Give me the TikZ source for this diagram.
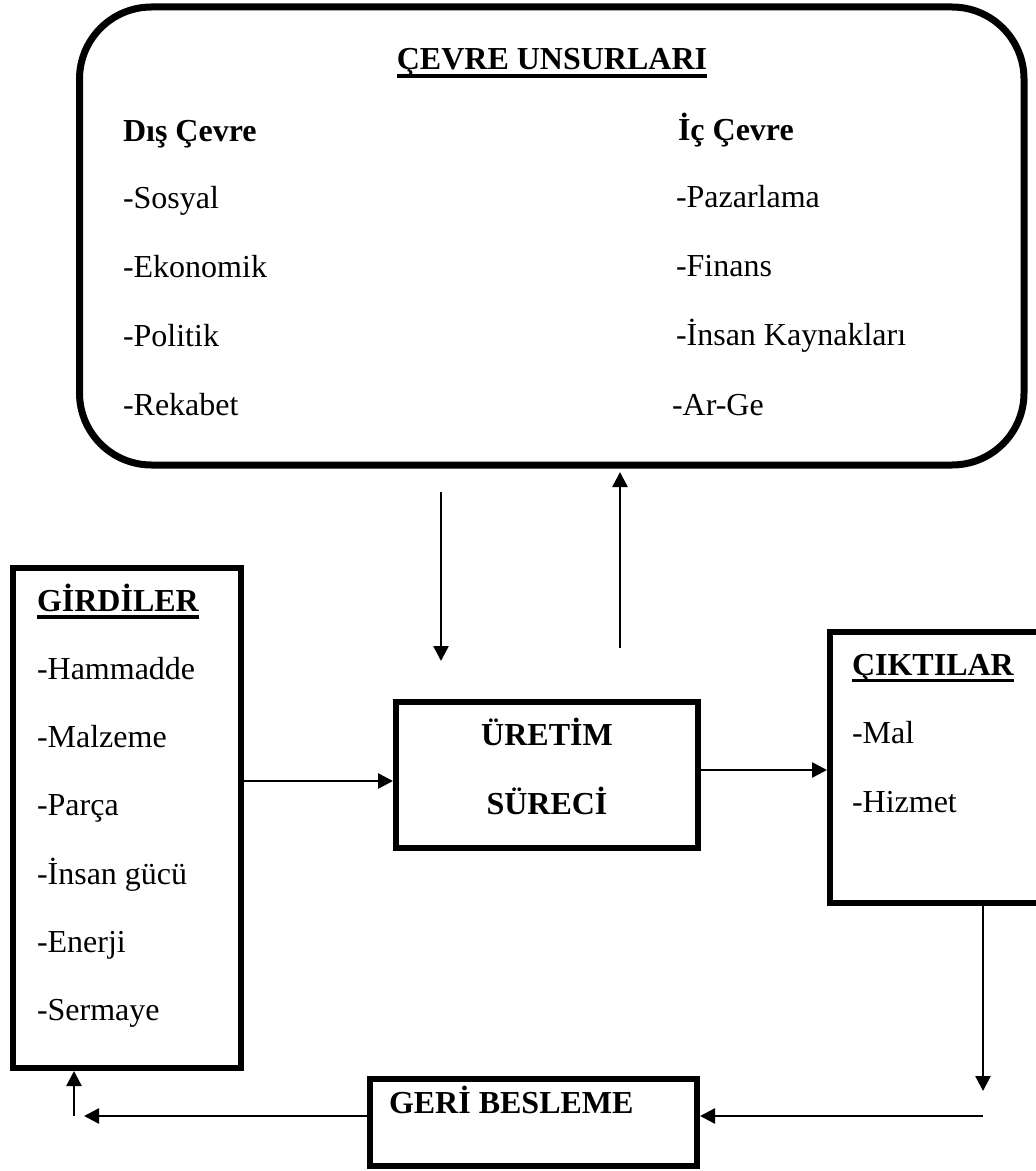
\documentclass[tikz,border=0pt]{standalone}
\usepackage{fontspec}
\setmainfont{Liberation Serif}
\usetikzlibrary{arrows.meta}
\begin{document}
\begin{tikzpicture}[x=0.5pt,y=-0.5pt,
  every node/.style={inner sep=0pt, outer sep=0pt, font=\fontsize{16}{19}\selectfont},
  box/.style={draw, line width=3pt, outer sep=1.5pt},
  label/.style={anchor=base west},
  heading/.style={anchor=base west, font=\fontsize{16}{19}\selectfont\bfseries},
  uline/.style={line width=1.6pt},
  arr/.style={line width=1.25pt, -{Triangle[length=7.5pt,width=7.5pt]}},
  wire/.style={line width=1.25pt}
]
\useasboundingbox (0,0) rectangle (1036,1171);
\clip (0,0) rectangle (1036,1171);

% environment panel
\node[draw, line width=3.5pt, rounded corners=36pt, outer sep=1.75pt,
      minimum width=472.25pt, minimum height=229pt] (env) at (551.75,236) {};
\node[heading, anchor=base] (envtitle) at (552,70) {ÇEVRE UNSURLARI};
\draw[uline] ([yshift=-3pt]envtitle.base west) -- ([yshift=-3pt]envtitle.base east);

\node[heading] (dis) at (123,142) {Dış Çevre};
\node[label] (d1) at (123,209) {-Sosyal};
\node[label] (d2) at (123,278) {-Ekonomik};
\node[label] (d3) at (123,346) {-Politik};
\node[label] (d4) at (123,415) {-Rekabet};

\node[heading] (ic) at (678,141) {İç Çevre};
\node[label] (i1) at (676,208) {-Pazarlama};
\node[label] (i2) at (676,277) {-Finans};
\node[label] (i3) at (676,345) {-İnsan Kaynakları};
\node[label] (i4) at (672,415) {-Ar-Ge};

% inputs
\node[box, minimum width=114pt, minimum height=250pt] (girdi) at (127,818) {};
\node[heading] (girdititle) at (37,611) {GİRDİLER};
\draw[uline] ([yshift=-3pt]girdititle.base west) -- ([yshift=-3pt]girdititle.base east);
\node[label] (g1) at (37,679) {-Hammadde};
\node[label] (g2) at (37,747) {-Malzeme};
\node[label] (g3) at (37,815) {-Parça};
\node[label] (g4) at (37,884) {-İnsan gücü};
\node[label] (g5) at (37,952) {-Enerji};
\node[label] (g6) at (37,1020) {-Sermaye};

% production process
\node[box, minimum width=151pt, minimum height=73pt] (uretim) at (547,775) {};
\node[heading, anchor=base] (u1) at (547,745) {ÜRETİM};
\node[heading, anchor=base] (u2) at (547,814) {SÜRECİ};

% outputs
\node[box, minimum width=107.5pt, minimum height=135.5pt] (cikti) at (937.5,767.5) {};
\node[heading] (ciktititle) at (852,675) {ÇIKTILAR};
\draw[uline] ([yshift=-2.75pt]ciktititle.base west) -- ([yshift=-2.75pt]ciktititle.base east);
\node[label] (c1) at (852,743) {-Mal};
\node[label] (c2) at (852,812) {-Hizmet};

% feedback
\node[box, minimum width=163.5pt, minimum height=43.5pt] (geri) at (533.5,1122.5) {};
\node[heading] (geritxt) at (389,1113) {GERİ BESLEME};

% free ends of the connectors
\coordinate (downS) at (441,492);
\coordinate (downE) at (441,661);
\coordinate (upS) at (620,648);
\coordinate (upE) at (620,472);
\coordinate (outS) at (983,906);
\coordinate (outE) at (983,1091);
\coordinate (fbR) at (983,1116);
\coordinate (fbL) at (84,1116);
\coordinate (fbC) at (74,1116);
\coordinate (inY) at (0,781);
\coordinate (outY) at (0,770);

% connectors
\draw[arr] (downS) -- (downE);
\draw[arr] (upS) -- (upE);
\draw[arr] (girdi.east |- inY) -- (uretim.west |- inY);
\draw[arr] (uretim.east |- outY) -- (cikti.west |- outY);
\draw[arr] (outS) -- (outE);
\draw[arr] (fbR) -- (geri.east |- fbR);
\draw[arr] (geri.west |- fbR) -- (fbL);
\draw[arr] (fbC) -- (girdi.south -| fbC);
\end{tikzpicture}
\end{document}
